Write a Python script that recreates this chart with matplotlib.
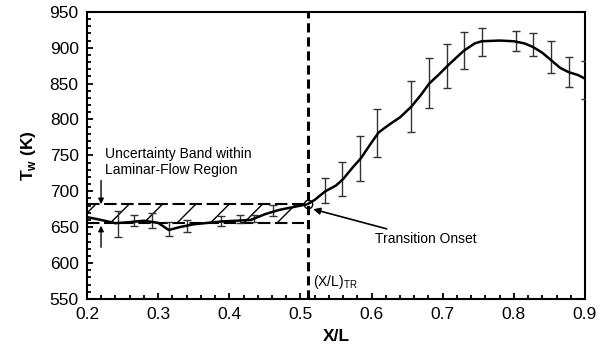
import matplotlib
matplotlib.use('Agg')
import matplotlib.pyplot as plt
from matplotlib.ticker import MultipleLocator

plt.rcParams['font.family'] = ['Liberation Sans', 'DejaVu Sans']
plt.rcParams['hatch.linewidth'] = 1.0

# wall temperature curve
curve_x = [0.20, 0.22, 0.24, 0.26, 0.28, 0.30, 0.315, 0.33, 0.35, 0.37, 0.39, 0.41,
           0.43, 0.45, 0.47, 0.49, 0.51, 0.52, 0.535, 0.55, 0.56, 0.575, 0.585,
           0.60, 0.61, 0.625, 0.64, 0.656, 0.67, 0.681, 0.695, 0.706, 0.72, 0.73,
           0.745, 0.755, 0.78, 0.80, 0.815, 0.827, 0.84, 0.852, 0.865, 0.877,
           0.89, 0.90]
curve_y = [664, 660, 655.5, 657, 659, 656, 646, 650, 654, 656, 658, 659,
           660, 668, 674, 678, 682, 688, 700, 708, 717, 735, 746,
           768, 782, 793, 803, 818, 835, 850, 863, 874, 887, 896,
           906, 909, 910, 909, 906, 901, 893, 883, 872, 866,
           862, 857]

# error bars (lower / upper ends)
err_x = [0.243, 0.266, 0.292, 0.315, 0.340, 0.389, 0.415, 0.435, 0.462,
         0.535, 0.559, 0.584, 0.608, 0.656, 0.681, 0.706, 0.730, 0.755,
         0.803, 0.827, 0.852, 0.877, 0.900]
err_lo = [636.5, 651.4, 649, 637.5, 643, 651, 656, 657.4, 665.3,
          684, 693.5, 715, 748, 783, 816, 844, 870, 889,
          895, 889, 865, 845, 829]
err_hi = [672.6, 666.7, 670, 656.5, 659.7, 666, 667.6, 667, 680.5,
          719, 740.7, 777, 815, 854, 885, 905, 922, 928,
          923, 920, 910, 887, 882]

band_x = [0.2, 0.505]
band_lo = 656
band_hi = 682
x_tr = 0.51
y_tr = 682

fig = plt.figure(figsize=(6.06, 3.48), dpi=100)
ax = fig.add_axes([0.1436, 0.141, 0.8217, 0.825])

# uncertainty band
ax.fill_between(band_x, band_lo, band_hi, facecolor='none', edgecolor='black',
                hatch='/', linewidth=0)
ax.plot(band_x, [band_hi, band_hi], color='black', lw=1.5, dashes=(6, 2.2))
ax.plot(band_x, [band_lo, band_lo], color='black', lw=1.5, dashes=(6, 2.2))

# error bars
mid = [(a + b) / 2 for a, b in zip(err_lo, err_hi)]
yerr = [[m - a for m, a in zip(mid, err_lo)], [b - m for m, b in zip(mid, err_hi)]]
ax.errorbar(err_x, mid, yerr=yerr, fmt='none', ecolor='#333333', elinewidth=1.0,
            capsize=3, capthick=1.0, zorder=3)

ax.plot(curve_x, curve_y, color='black', lw=1.8, zorder=4)

# transition line
ax.axvline(x_tr, color='black', lw=2.2, dashes=(3, 1.6), zorder=5)
ax.plot([x_tr], [y_tr], 'o', ms=6, mfc='none', mec='black', mew=1.0, zorder=6)

ax.annotate('Transition Onset', xy=(0.518, 675), xytext=(0.605, 633),
            fontsize=10, va='center', ha='left',
            arrowprops=dict(arrowstyle='-|>', color='black', lw=1.2,
                            mutation_scale=10, shrinkA=2, shrinkB=0))
ax.text(0.518, 574, r'(X/L)$_{\mathregular{TR}}$', fontsize=10, va='center', ha='left')
ax.text(0.225, 741, 'Uncertainty Band within\nLaminar-Flow Region', fontsize=10,
        va='center', ha='left', linespacing=1.15)
ax.annotate('', xy=(0.2197, band_hi), xytext=(0.2197, 715),
            arrowprops=dict(arrowstyle='-|>', color='black', lw=1.0,
                            mutation_scale=8, shrinkA=0, shrinkB=0))
ax.annotate('', xy=(0.2197, 652), xytext=(0.2197, 622),
            arrowprops=dict(arrowstyle='-|>', color='black', lw=1.0,
                            mutation_scale=8, shrinkA=0, shrinkB=0))

ax.set_xlim(0.2, 0.9)
ax.set_ylim(550, 950)
ax.xaxis.set_major_locator(MultipleLocator(0.1))
ax.xaxis.set_minor_locator(MultipleLocator(0.02))
ax.yaxis.set_major_locator(MultipleLocator(50))
ax.yaxis.set_minor_locator(MultipleLocator(10))
ax.tick_params(which='both', direction='in', top=False, right=False,
               labelsize=12.5, width=1.3)
ax.tick_params(which='major', length=4.5, pad=6)
ax.tick_params(which='minor', length=2.8)
ax.set_xticklabels(['%.1f' % v for v in ax.get_xticks()])
for s in ax.spines.values():
    s.set_linewidth(1.5)

ax.set_xlabel('X/L', fontsize=12.5, fontweight='bold', labelpad=5)
ax.set_ylabel(r'T$_{\mathregular{w}}$ (K)', fontsize=12.5, fontweight='bold', labelpad=8)

fig.savefig('out.png', dpi=100)
